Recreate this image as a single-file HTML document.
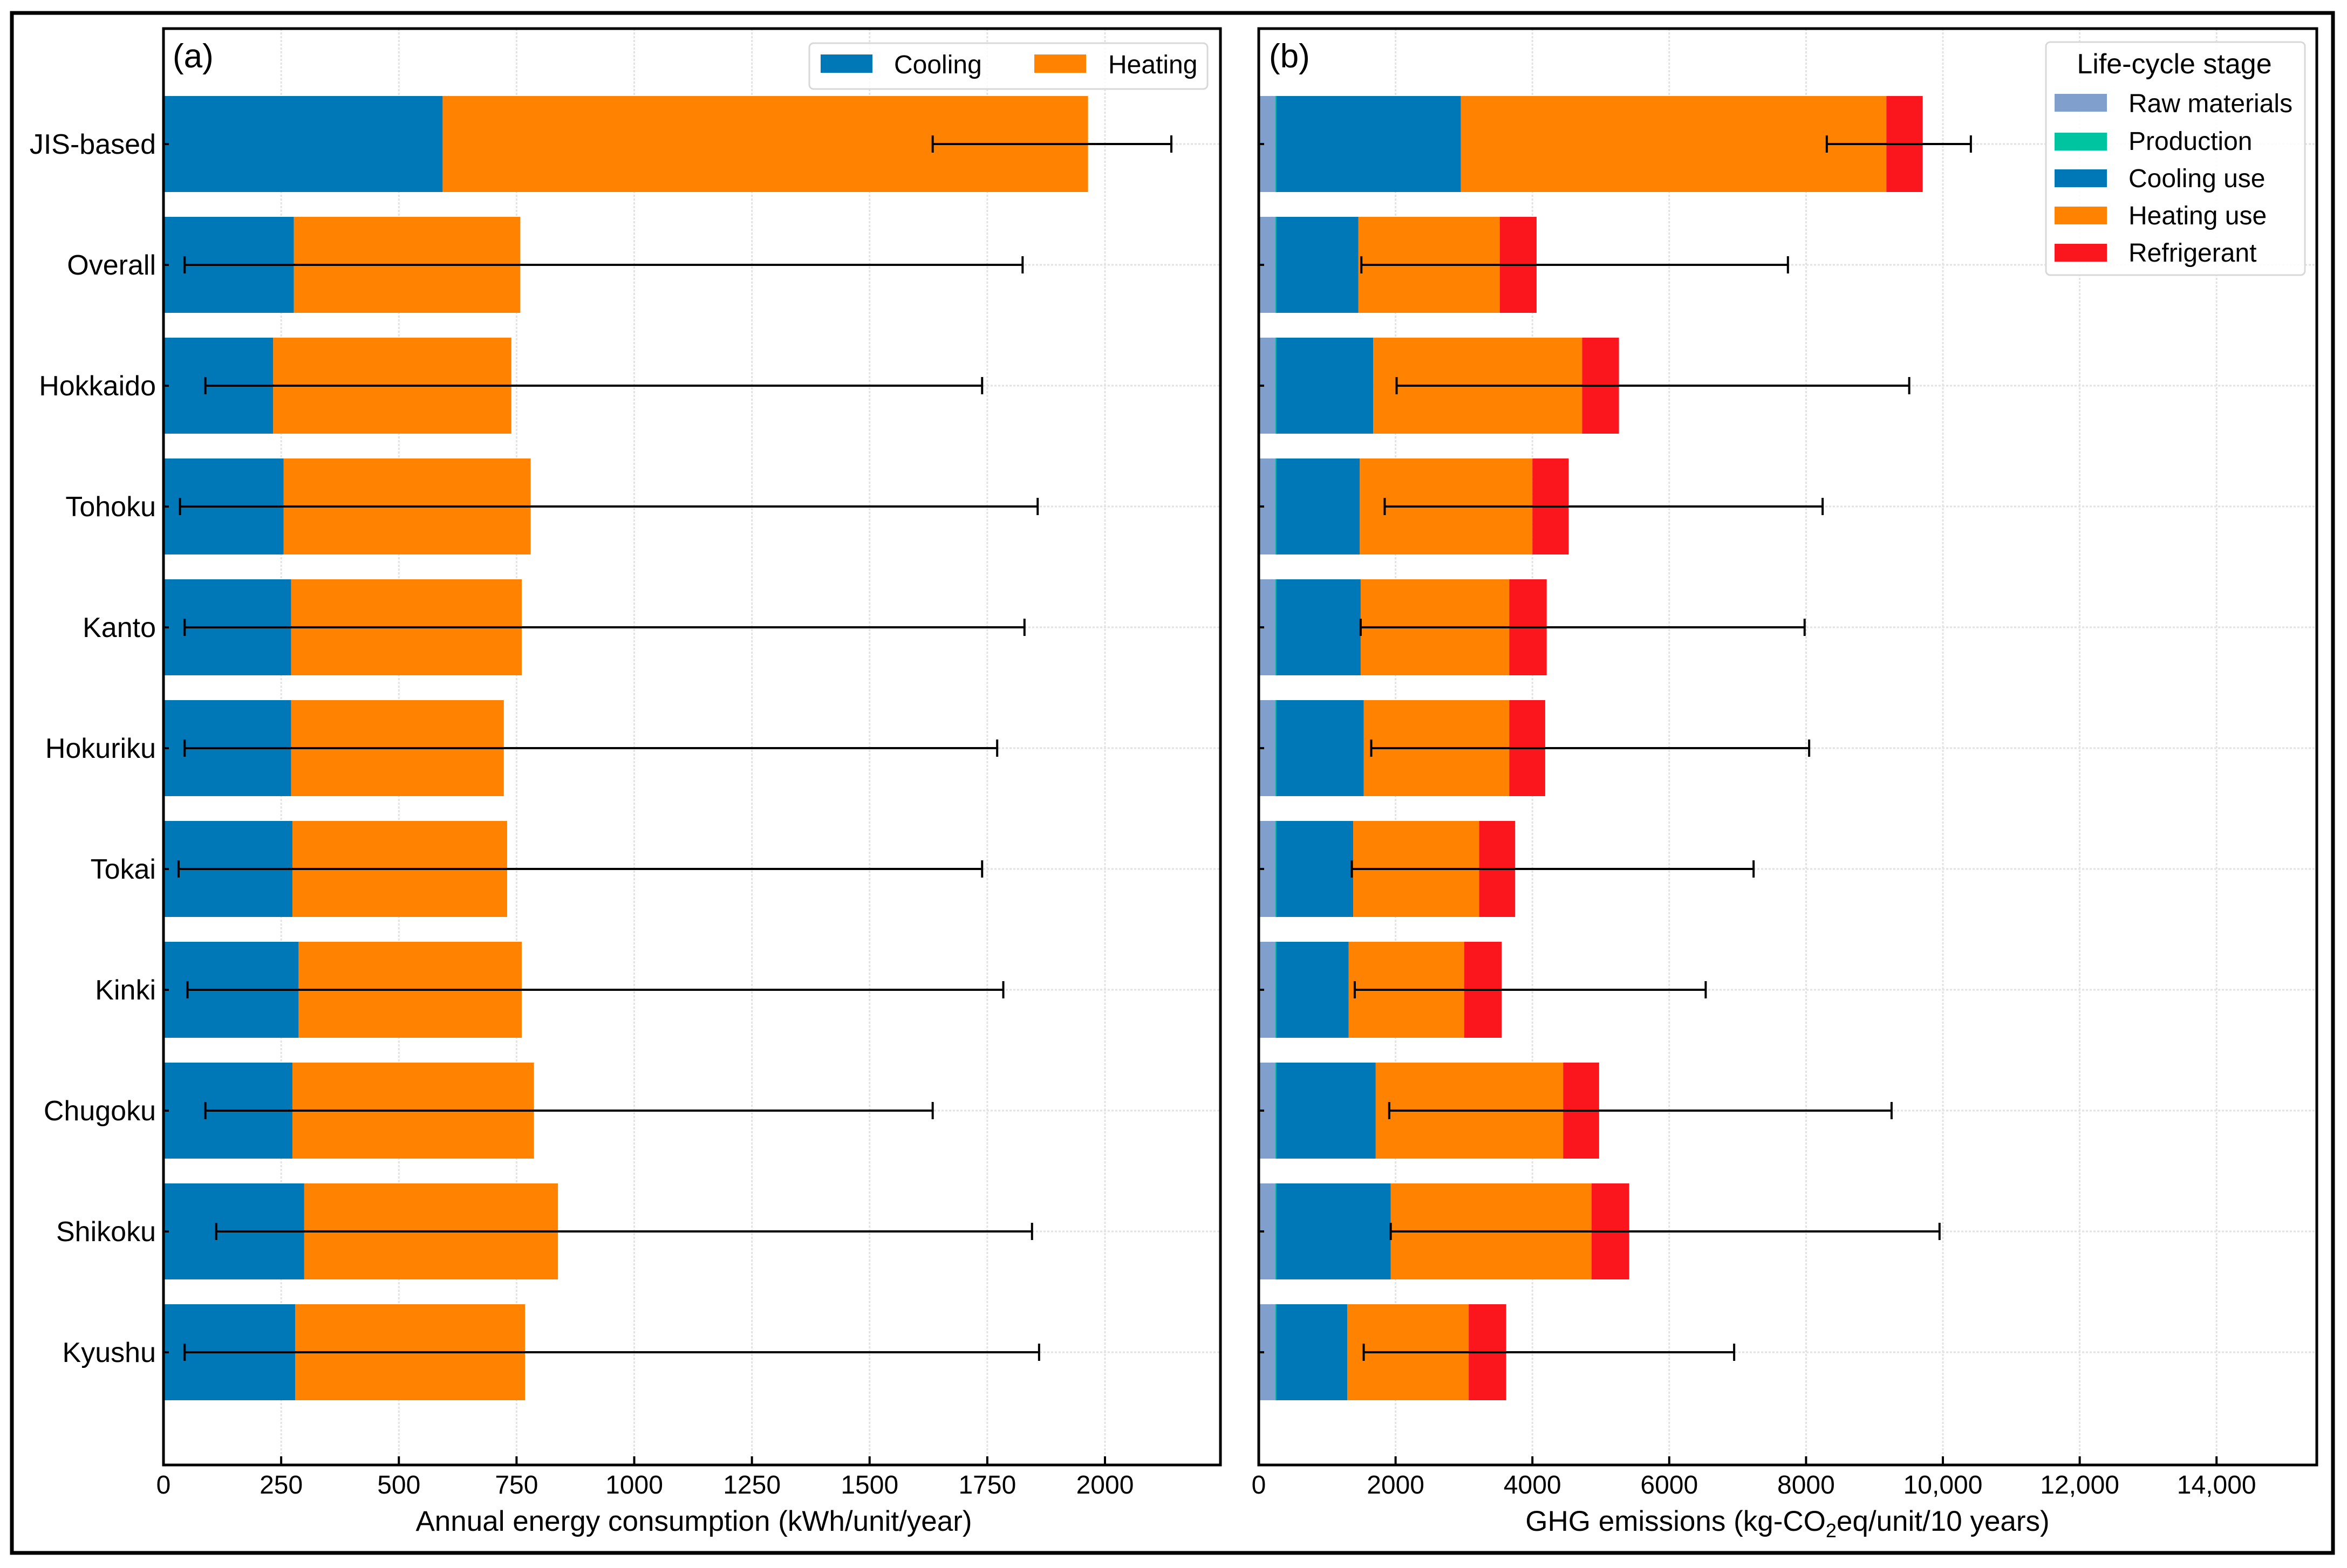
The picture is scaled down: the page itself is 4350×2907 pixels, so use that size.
<!DOCTYPE html>
<html><head><meta charset="utf-8"><style>
html,body{margin:0;padding:0;background:#fff}
svg text{font-family:"Liberation Sans",Arial,sans-serif;fill:#000}
</style></head><body>
<svg id="chart" xmlns="http://www.w3.org/2000/svg" width="4350" height="2902" viewBox="0 0 4350 2902">
<rect x="0" y="0" width="4350" height="2902" fill="#fff"/>
<g id="grid"></g>
<g id="bars"></g>
<g id="err"></g>
<g id="axes"></g>
<rect x="22" y="24" width="4302" height="2855" fill="none" stroke="#000" stroke-width="7"/>
</svg>
<script>
const categories=["JIS-based","Overall","Hokkaido","Tohoku","Kanto","Hokuriku","Tokai","Kinki","Chugoku","Shikoku","Kyushu"];
// Panel (a): kWh/unit/year
const coolingA=[593,277,233,255,271,271,274,287,274,299,280];
const heatingA=[1371,481,506,525,490,452,456,474,513,539,488];
const errLowA=[1634,45,89,35,45,45,32,51,89,112,45];
const errHighA=[2141,1825,1739,1857,1829,1771,1739,1784,1634,1845,1860];
const ticksA=[0,250,500,750,1000,1250,1500,1750,2000];
// Panel (b): kg-CO2eq/unit/10 years
const rawB=[240,240,240,240,240,240,240,240,240,240,240];
const prodB=[15,15,15,15,15,15,15,15,15,15,15];
const coolingB=[2700,1200,1419,1222,1235,1280,1126,1060,1455,1674,1039];
const heatingB=[6219,2068,3053,2523,2171,2126,1841,1687,2739,2937,1775];
const refrigB=[531,538,538,530,548,526,526,549,526,549,548];
const errLowB=[8303,1500,2015,1841,1490,1644,1359,1403,1907,1929,1534];
const errHighB=[10409,7735,9508,8242,7979,8045,7233,6533,9250,9951,6949];
const ticksB=[0,2000,4000,6000,8000,10000,12000,14000];
const tickLabelsB=["0","2000","4000","6000","8000","10,000","12,000","14,000"];

const NS="http://www.w3.org/2000/svg";
const top_=53, bot=2716;
const A={x0:303,x1:2262,k:0.8725};
const B={x0:2333,x1:4294,k:0.1268};
const xA=v=>A.x0+v*A.k;
const xB=v=>B.x0+v*B.k;
const yC=i=>267+224*i;
const BH=178;
const COL={cool:"#0077b6",heat:"#ff8200",raw:"#819fcc",prod:"#00c4a0",ref:"#fb151c"};

function mk(tag,attrs,parent,text){const e=document.createElementNS(NS,tag);for(const k in attrs)e.setAttribute(k,attrs[k]);if(text!==undefined)e.textContent=text;parent.appendChild(e);return e;}
const gGrid=document.getElementById('grid'),gBars=document.getElementById('bars'),gErr=document.getElementById('err'),gAx=document.getElementById('axes');

ticksA.forEach(t=>{const l=mk('line',{x1:xA(t),x2:xA(t),y1:top_,y2:bot,stroke:"#e2e2e2","stroke-width":3,"stroke-dasharray":"4 3"},gGrid);

});
ticksB.forEach(t=>{const l=mk('line',{x1:xB(t),x2:xB(t),y1:top_,y2:bot,stroke:"#e2e2e2","stroke-width":3,"stroke-dasharray":"4 3"},gGrid);

});
categories.forEach((c,i)=>{[[A.x0,A.x1],[B.x0,B.x1]].forEach(r=>{const l=mk('line',{x1:r[0],x2:r[1],y1:yC(i),y2:yC(i),stroke:"#e2e2e2","stroke-width":3,"stroke-dasharray":"4 3"},gGrid);

});});

categories.forEach((c,i)=>{
  const y=yC(i)-BH/2;
  const r1=mk('rect',{x:xA(0),y:y,width:xA(coolingA[i])-xA(0),height:BH,fill:COL.cool},gBars);
  
  
  const r2=mk('rect',{x:xA(coolingA[i]),y:y,width:xA(coolingA[i]+heatingA[i])-xA(coolingA[i]),height:BH,fill:COL.heat},gBars);
  
  
  const e=mk('path',{d:`M${xA(errLowA[i])},${yC(i)}H${xA(errHighA[i])}M${xA(errLowA[i])},${yC(i)-16}V${yC(i)+16}M${xA(errHighA[i])},${yC(i)-16}V${yC(i)+16}`,stroke:"#000","stroke-width":4,fill:"none"},gErr);
  
  
  let acc=0;
  const segs=[[rawB[i],COL.raw,'raw'],[prodB[i],COL.prod,'production'],[coolingB[i],COL.cool,'cooling'],[heatingB[i],COL.heat,'heating'],[refrigB[i],COL.ref,'refrigerant']];
  segs.forEach(s=>{const r=mk('rect',{x:xB(acc),y:y,width:xB(acc+s[0])-xB(acc),height:BH,fill:s[1]},gBars);
    
    
    acc+=s[0];});
  const e2=mk('path',{d:`M${xB(errLowB[i])},${yC(i)}H${xB(errHighB[i])}M${xB(errLowB[i])},${yC(i)-16}V${yC(i)+16}M${xB(errHighB[i])},${yC(i)-16}V${yC(i)+16}`,stroke:"#000","stroke-width":4,fill:"none"},gErr);
  
  
  const t=mk('text',{x:289,y:yC(i)+18,"text-anchor":"end","font-size":52},gAx,c);
  
  
  [A.x0,B.x0].forEach(x=>{const tk=mk('line',{x1:x,x2:x+10,y1:yC(i),y2:yC(i),stroke:"#000","stroke-width":4},gAx);
    
    });
});

[[A.x0,A.x1,'axes-frame-a'],[B.x0,B.x1,'axes-frame-b']].forEach(f=>{const r=mk('rect',{x:f[0],y:top_,width:f[1]-f[0],height:bot-top_,fill:"none",stroke:"#000","stroke-width":5},gAx);

});

ticksA.forEach(t=>{const l=mk('line',{x1:xA(t),x2:xA(t),y1:bot,y2:bot-16,stroke:"#000","stroke-width":4},gAx);


const tx=mk('text',{x:xA(t),y:2769,"text-anchor":"middle","font-size":48},gAx,String(t));

});
ticksB.forEach((t,j)=>{const l=mk('line',{x1:xB(t),x2:xB(t),y1:bot,y2:bot-16,stroke:"#000","stroke-width":4},gAx);


const tx=mk('text',{x:xB(t),y:2769,"text-anchor":"middle","font-size":48},gAx,tickLabelsB[j]);

});
</script>
<svg style="position:absolute;left:0;top:0" width="4350" height="2902" xmlns="http://www.w3.org/2000/svg">
<text x="1286" y="2838" text-anchor="middle" font-size="53">Annual energy consumption (kWh/unit/year)</text>
<text x="3313" y="2838" text-anchor="middle" font-size="53">GHG emissions (kg-CO<tspan font-size="36" dy="12">2</tspan><tspan dy="-12">eq/unit/10 years)</tspan></text>
<text x="320" y="125" font-size="62">(a)</text>
<text x="2352" y="125" font-size="62">(b)</text>
<g>
<rect x="1500" y="80" width="738" height="85" rx="8" fill="#fff" fill-opacity="0.85" stroke="#d8d8d8" stroke-width="3"/>
<rect x="1521" y="101" width="96" height="34" fill="#0077b6"/>
<text x="1657" y="136" font-size="48">Cooling</text>
<rect x="1917" y="101" width="96" height="34" fill="#ff8200"/>
<text x="2054" y="136" font-size="48">Heating</text>
</g>
<g>
<rect x="3792" y="78" width="480" height="432" rx="8" fill="#fff" fill-opacity="0.9" stroke="#d8d8d8" stroke-width="3"/>
<text x="4030" y="136" text-anchor="middle" font-size="52">Life-cycle stage</text>
<rect x="3808" y="174" width="97" height="33" fill="#819fcc"/>
<text x="3945" y="208" font-size="48">Raw materials</text>
<rect x="3808" y="246" width="97" height="33" fill="#00c4a0"/>
<text x="3945" y="278" font-size="48">Production</text>
<rect x="3808" y="314" width="97" height="33" fill="#0077b6"/>
<text x="3945" y="347" font-size="48">Cooling use</text>
<rect x="3808" y="383" width="97" height="33" fill="#ff8200"/>
<text x="3945" y="416" font-size="48">Heating use</text>
<rect x="3808" y="452" width="97" height="33" fill="#fb151c"/>
<text x="3945" y="485" font-size="48">Refrigerant</text>
</g>
</svg>
</body></html>
